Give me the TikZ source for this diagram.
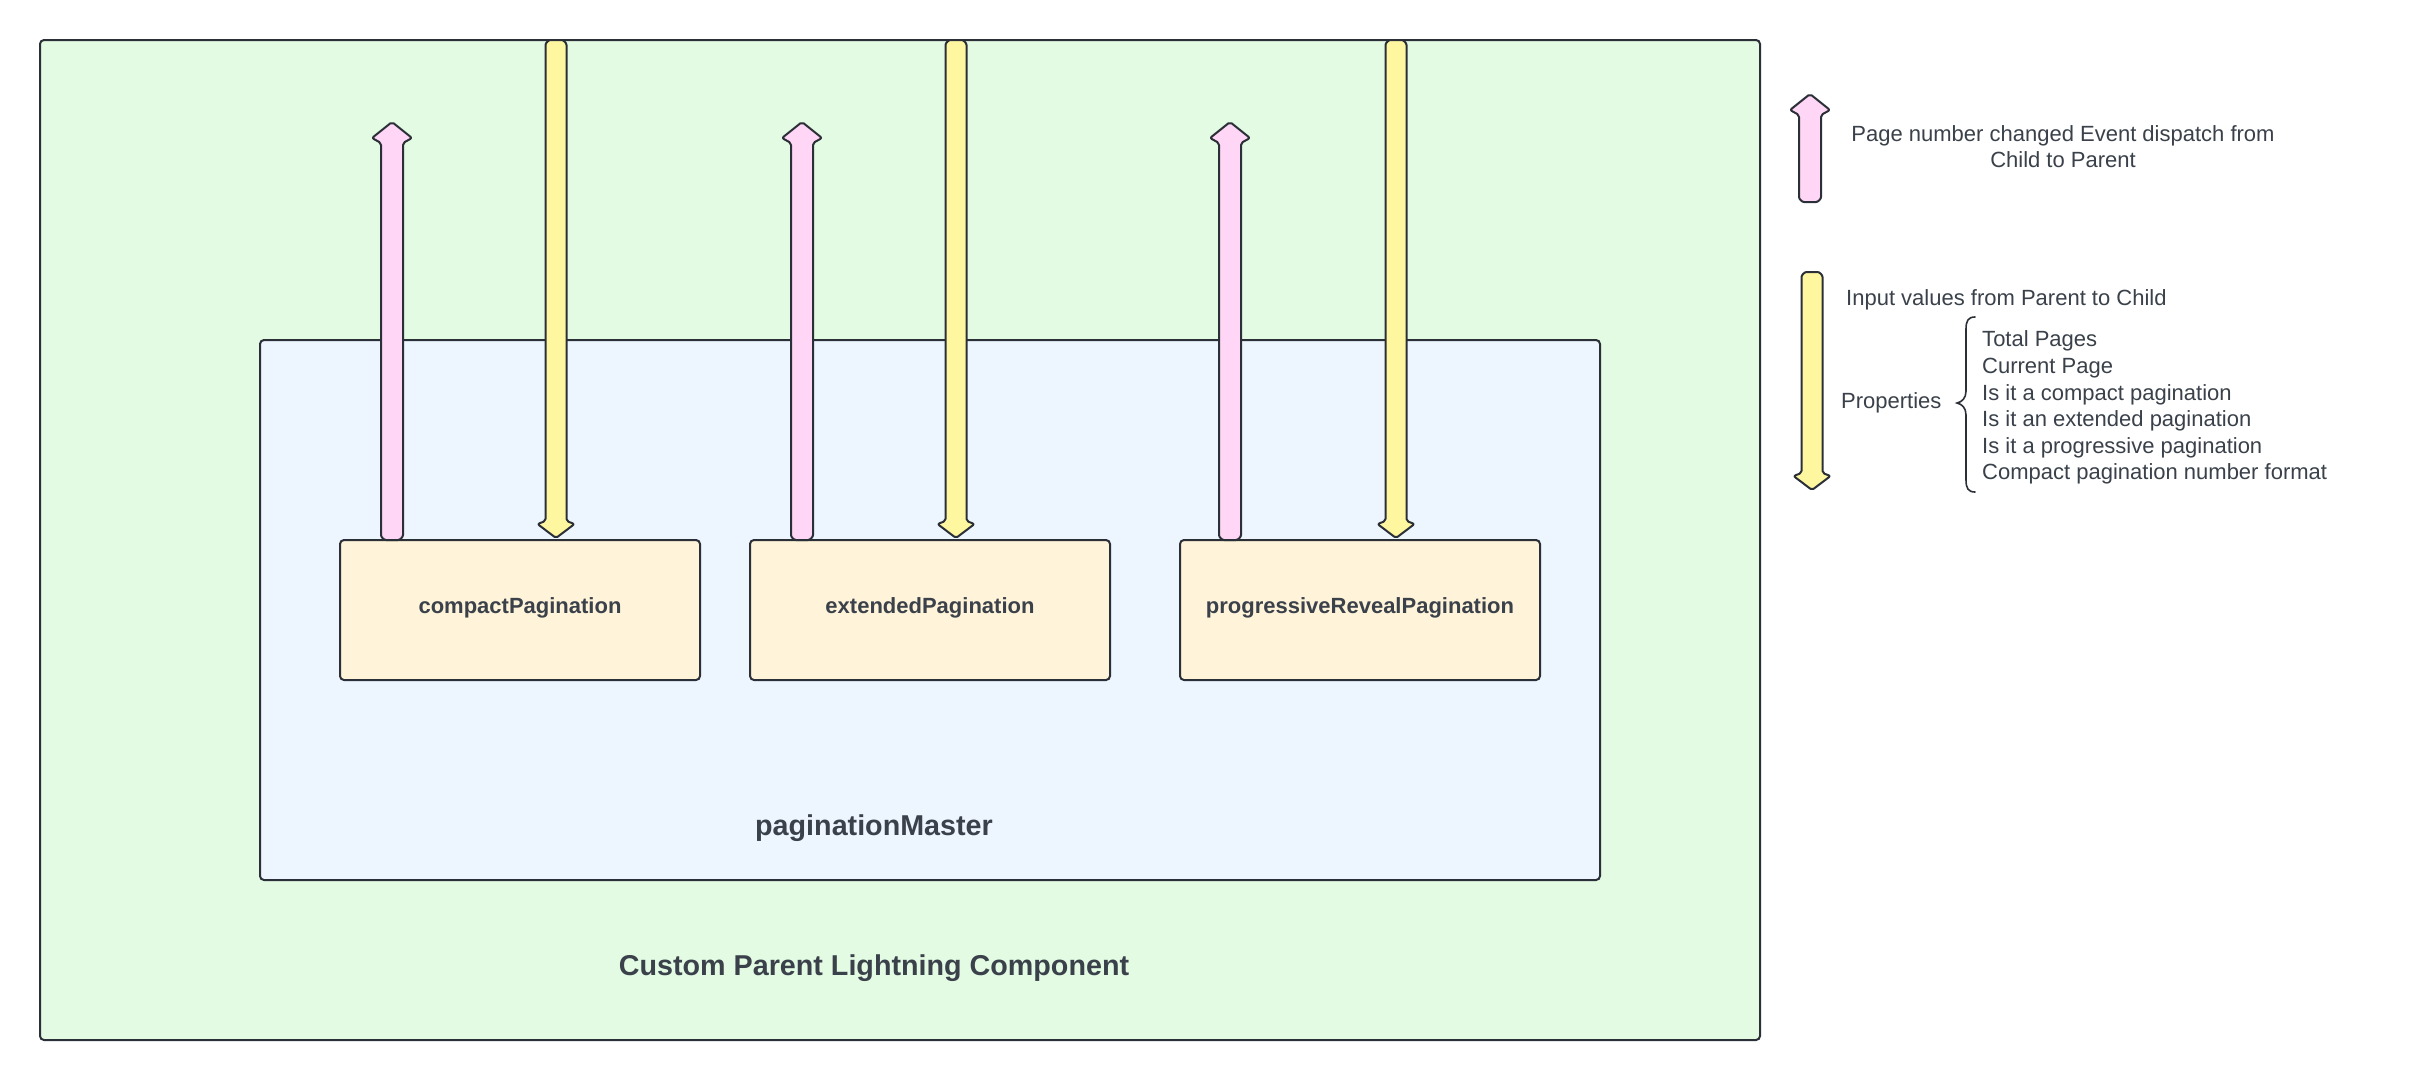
\documentclass[tikz,border=0pt]{standalone}
\usepackage{fontspec}
\setmainfont{Liberation Sans}
\definecolor{linec}{HTML}{2B3038}
\definecolor{textc}{HTML}{3A414A}
\definecolor{greenc}{HTML}{E3FAE3}
\definecolor{bluec}{HTML}{EDF5FF}
\definecolor{boxc}{HTML}{FFF3D9}
\definecolor{pinkc}{HTML}{FFD6F5}
\definecolor{yellowc}{HTML}{FFF6A0}
\newcommand{\pinkarrow}[3]{%
  \filldraw[arrowline, fill=pinkc] ({#1+11},{#2+21}) -- ({#1+11},{#3-7})
    .. controls ({#1+11},{#3-3}) and ({#1+8},{#3}) .. ({#1+4},{#3}) -- ({#1-4},{#3})
    .. controls ({#1-8},{#3}) and ({#1-11},{#3-3}) .. ({#1-11},{#3-7})
    -- ({#1-11},{#2+21}) -- ({#1-20},{#2+16}) -- (#1,#2) -- ({#1+20},{#2+16}) -- cycle;}
\newcommand{\yellowarrow}[3]{%
  \filldraw[arrowline, fill=yellowc] ({#1-10.5},{#3-17}) -- ({#1-10.5},{#2+7})
    .. controls ({#1-10.5},{#2+3}) and ({#1-7.5},{#2}) .. ({#1-3.5},{#2}) -- ({#1+3.5},{#2})
    .. controls ({#1+7.5},{#2}) and ({#1+10.5},{#2+3}) .. ({#1+10.5},{#2+7})
    -- ({#1+10.5},{#3-17}) -- ({#1+18.5},{#3-14}) -- (#1,#3) -- ({#1-18.5},{#3-14}) -- cycle;}
\begin{document}
\begin{tikzpicture}[x=1pt,y=-1pt,
  frame/.style={draw=linec, line width=2pt, rounded corners=4pt, inner sep=0pt},
  childbox/.style={frame, fill=boxc, minimum width=360pt, minimum height=140pt,
    font=\fontsize{22}{26}\selectfont\bfseries, text=textc, text height=16pt, text depth=9.4pt},
  arrowline/.style={draw=linec, line width=2pt, line join=round, rounded corners=2pt},
  lbl/.style={inner sep=0pt, text=textc, font=\fontsize{22}{26}\selectfont},
  titlelbl/.style={inner sep=0pt, text=textc, font=\fontsize{28.7}{33}\selectfont\bfseries}]
\useasboundingbox[fill=white] (0,0) rectangle (2416,1080);
% containers
\node[frame, fill=greenc, minimum width=1720pt, minimum height=1000pt] (outer) at (900,540) {};
\node[frame, fill=bluec, minimum width=1340pt, minimum height=540pt] (inner) at (930,610) {};
% child components
\node[childbox] (cp) at (520,610) {compactPagination};
\node[childbox] (ep) at (930,610) {extendedPagination};
\node[childbox] (pp) at (1360,610) {progressiveRevealPagination};
% titles
\node[titlelbl, anchor=base] (pmt) at (874,835.7) {paginationMaster};
\node[titlelbl, anchor=base] (cplt) at (874,975.7) {Custom Parent Lightning Component};
% arrows
\pinkarrow{392}{122}{540}
\yellowarrow{556}{40}{538}
\pinkarrow{802}{122}{540}
\yellowarrow{956}{40}{538}
\pinkarrow{1230}{122}{540}
\yellowarrow{1396}{40}{538}
% legend
\pinkarrow{1810}{94}{202}
\yellowarrow{1812}{272}{490}
\node[lbl, anchor=base] (l1a) at (2063,141.7) {Page number changed Event dispatch from};
\node[lbl, anchor=base] (l1b) at (2063,167) {Child to Parent};
\node[lbl, anchor=base west] (l2) at (1846,305.7) {Input values from Parent to Child};
\node[lbl, anchor=base west] (props) at (1841,408) {Properties};
\draw[draw=linec, line width=1.6pt, line cap=round]
  (1975,317) .. controls (1968,317) and (1966,321) .. (1966,329) -- (1966,391)
  .. controls (1966,398) and (1962,402) .. (1957,403)
  .. controls (1962,404) and (1966,408) .. (1966,415) -- (1966,480)
  .. controls (1966,488) and (1968,492) .. (1975,492);
\node[lbl, anchor=base west] (p1) at (1982,346.7) {Total Pages};
\node[lbl, anchor=base west] (p2) at (1982,373.3) {Current Page};
\node[lbl, anchor=base west] (p3) at (1982,400) {Is it a compact pagination};
\node[lbl, anchor=base west] (p4) at (1982,426.7) {Is it an extended pagination};
\node[lbl, anchor=base west] (p5) at (1982,453.3) {Is it a progressive pagination};
\node[lbl, anchor=base west] (p6) at (1982,479.3) {Compact pagination number format};
\end{tikzpicture}
\end{document}
